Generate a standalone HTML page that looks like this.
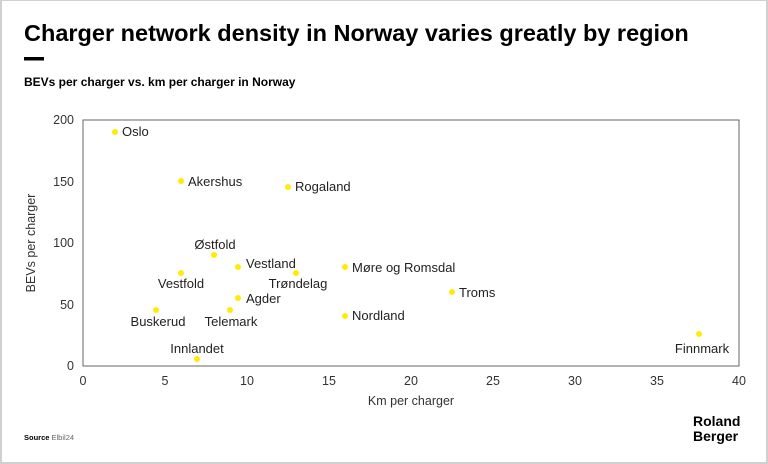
<!DOCTYPE html>
<html><head><meta charset="utf-8"><style>
html,body{margin:0;padding:0;background:#fff}
body{width:768px;height:464px;position:relative;overflow:hidden;font-family:"Liberation Sans",sans-serif}
.frame{position:absolute;left:0;top:0;width:764px;height:461px;border:2px solid #d0d0d0;border-top-width:1px;box-sizing:content-box}
</style></head><body>
<div class="frame"></div>
<svg width="768" height="464" style="position:absolute;left:0;top:0" font-family="Liberation Sans, sans-serif">
<text x="24" y="41" font-size="23.5" font-weight="bold" fill="#000">Charger network density in Norway varies greatly by region</text>
<rect x="24" y="57" width="20" height="3.5" fill="#000"/>
<text x="24" y="86" font-size="12" font-weight="bold" fill="#000">BEVs per charger vs. km per charger in Norway</text>
<rect x="83" y="120" width="656" height="246" fill="none" stroke="#666" stroke-width="1"/>
<g font-size="12.5" fill="#333" text-anchor="end">
<text x="74" y="124">200</text><text x="74" y="186">150</text><text x="74" y="247">100</text><text x="74" y="309">50</text><text x="74" y="370">0</text>
</g>
<g font-size="12.5" fill="#333" text-anchor="middle">
<text x="83" y="385">0</text><text x="165" y="385">5</text><text x="247" y="385">10</text><text x="329" y="385">15</text><text x="411" y="385">20</text><text x="493" y="385">25</text><text x="575" y="385">30</text><text x="657" y="385">35</text><text x="739" y="385">40</text>
</g>
<text x="411" y="405" font-size="12.5" fill="#333" text-anchor="middle">Km per charger</text>
<text transform="translate(35,243) rotate(-90)" font-size="12.5" fill="#333" text-anchor="middle">BEVs per charger</text>
<g fill="#ffec00">
<circle cx="115" cy="132" r="3"/><circle cx="181" cy="181" r="3"/><circle cx="288" cy="187" r="3"/><circle cx="214" cy="255" r="3"/><circle cx="238" cy="267" r="3"/><circle cx="181" cy="273" r="3"/><circle cx="296" cy="273" r="3"/><circle cx="345" cy="267" r="3"/><circle cx="452" cy="292" r="3"/><circle cx="238" cy="298" r="3"/><circle cx="156" cy="310" r="3"/><circle cx="230" cy="310" r="3"/><circle cx="345" cy="316" r="3"/><circle cx="197" cy="359" r="3"/><circle cx="699" cy="334" r="3"/>
</g>
<g font-size="13" fill="#222">
<text x="122" y="136">Oslo</text>
<text x="188" y="186">Akershus</text>
<text x="295" y="191">Rogaland</text>
<text x="215" y="249" text-anchor="middle">Østfold</text>
<text x="246" y="268">Vestland</text>
<text x="181" y="288" text-anchor="middle">Vestfold</text>
<text x="298" y="288" text-anchor="middle">Trøndelag</text>
<text x="352" y="272">Møre og Romsdal</text>
<text x="459" y="297">Troms</text>
<text x="246" y="303">Agder</text>
<text x="158" y="326" text-anchor="middle">Buskerud</text>
<text x="231" y="326" text-anchor="middle">Telemark</text>
<text x="352" y="320">Nordland</text>
<text x="197" y="353" text-anchor="middle">Innlandet</text>
<text x="702" y="353" text-anchor="middle">Finnmark</text>
</g>
<text x="24" y="440" font-size="7.5" font-weight="bold" fill="#000">Source <tspan font-weight="normal" fill="#666">Elbil24</tspan></text>
<text x="693" y="426" font-size="14" font-weight="bold" fill="#000">Roland</text>
<text x="693" y="441" font-size="14" font-weight="bold" fill="#000">Berger</text>
</svg>
</body></html>
